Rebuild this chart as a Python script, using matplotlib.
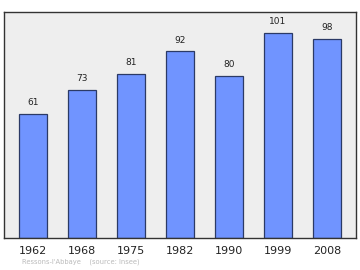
import matplotlib
matplotlib.use('Agg')
import matplotlib.pyplot as plt
import numpy as np

# Population data
annees = ['1962', '1968', '1975', '1982', '1990', '1999', '2008']
population = [61, 73, 81, 92, 80, 101, 98]

fig = plt.figure(figsize=(3.6, 2.7), dpi=100)
ax = fig.add_axes([4 / 360, 1 - 237.5 / 270, 352 / 360, 225.5 / 270])
ax.set_facecolor('#eeeeee')

x = np.arange(len(annees))
ax.bar(x, population, width=0.58, color='#7094ff', edgecolor='#2b3a66', linewidth=0.9)

for xi, v in zip(x, population):
    ax.text(xi, v + 3.3, str(v), ha='center', va='bottom', fontsize=6.5, color='#222222')

ax.set_xlim(-0.59, 6.59)
ax.set_ylim(0, 111.4)
ax.set_yticks([])
ax.set_xticks(x)
ax.set_xticklabels(annees, fontsize=8)
ax.tick_params(axis='x', length=0, pad=6, colors='#222222')

for s in ax.spines.values():
    s.set_color('#333333')
    s.set_linewidth(1.0)

fig.text(22 / 360, 1 - 262 / 270, "Ressons-l'Abbaye    (source: Insee)", fontsize=4.9,
         color='#bbbbbb', va='center', ha='left')

fig.savefig('out.png', dpi=100)
